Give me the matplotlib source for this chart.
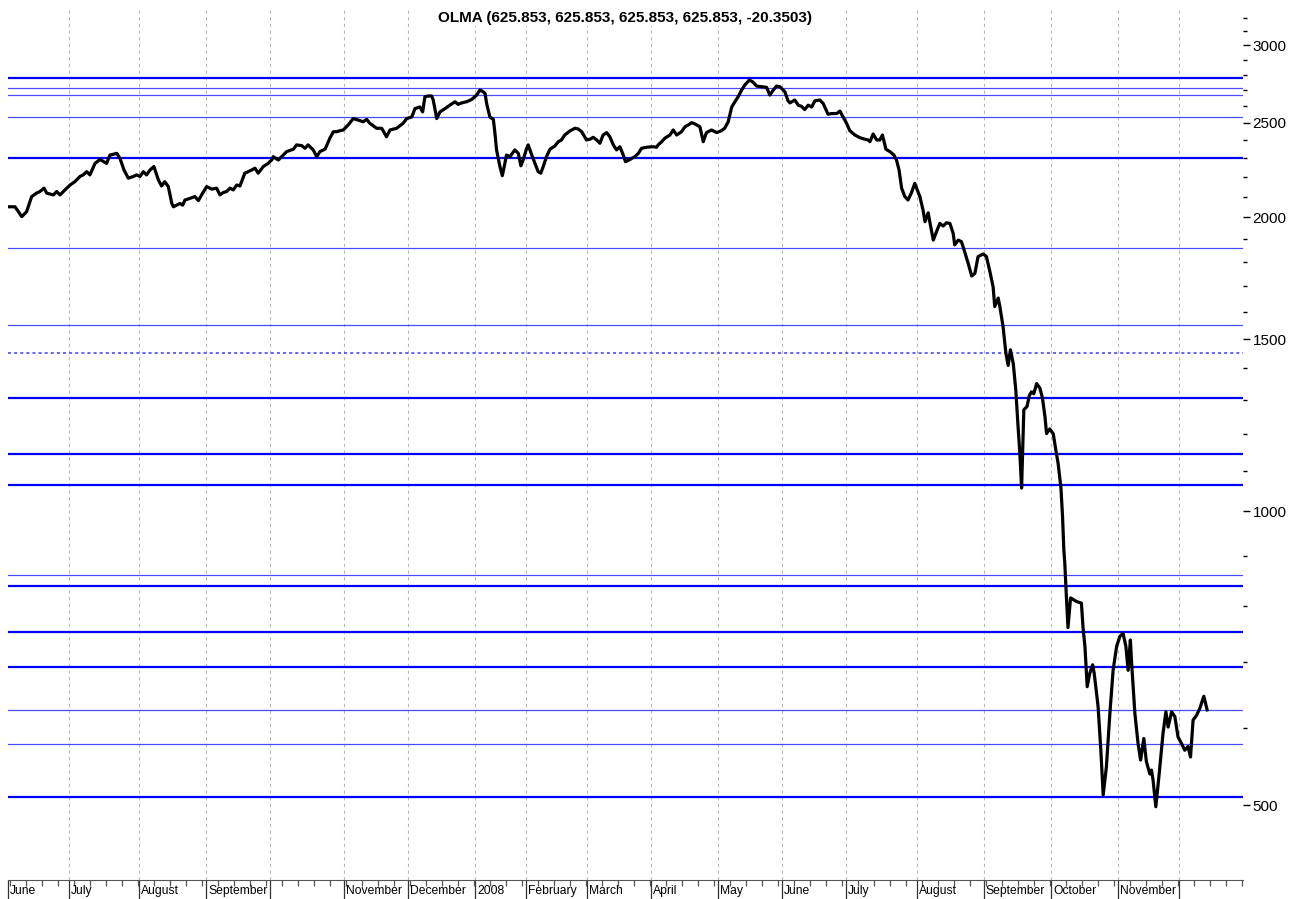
import numpy as np
import matplotlib.pyplot as plt
import matplotlib.transforms as mtransforms
from matplotlib.ticker import NullFormatter

plt.rcParams['font.family'] = ['Liberation Sans', 'DejaVu Sans']

# trading-day index / close price
day = [0, 2.2, 4.3, 5.8, 7.4, 8.9, 10, 11.25, 12.1, 14.2, 15.2, 16.25, 17.8, 19.4, 20.9,
       22.5, 23.5, 24.6, 25.6, 27.2, 28.75, 30.8, 31.9, 34, 35, 36.25, 37.6, 39.2, 40.2,
       41.25, 42.3, 43.3, 44.4, 45.6, 47, 48, 49, 50.1, 51.2, 51.7, 53.75, 54.6, 55.3,
       56.9, 58.4, 59.5, 60.5, 62.1, 63.7, 65.2, 66.25, 67.3, 68.3, 69.4, 70.4, 71.5,
       72.5, 74, 75.1, 76.2, 77.2, 78.2, 79.8, 81.3, 82.4, 82.9, 84.5, 85.5, 87.1, 89.2,
       90.2, 91.8, 92.8, 93.8, 95.4, 96.5, 97.5, 99.1, 100.6, 101.7, 102.7, 103.75,
       104.8, 106.3, 107.9, 109.5, 111, 112.1, 113.1, 115.2, 116.8, 118.3, 119.4, 121.5,
       123.5, 124.6, 126.2, 127.2, 128.75, 129.6, 130.3, 131.3, 132.4, 132.9, 134, 135,
       136.6, 138.1, 139.7, 140.7, 141.8, 143.3, 144.9, 146.5, 147.5, 148.5, 149.1,
       149.6, 150.6, 151.7, 152.2, 152.7, 153.75, 154.5, 155.3, 155.8, 156.9, 158.4,
       159.5, 160.3, 161, 162.1, 162.6, 163.7, 164.7, 165.7, 166.5, 167.3, 168.3, 169.4,
       170.9, 172, 173, 174, 175.6, 177.2, 178.2, 179.3, 180.8, 181.9, 182.9, 184, 185,
       186, 187.1, 188.1, 189.2, 190.2, 191.25, 192.3, 193, 194.4, 195.9, 197, 198,
       199.6, 201.7, 202.7, 203.2, 204.3, 205.3, 206.9, 207.9, 209, 210.5, 211.6, 212.6,
       213.7, 214.7, 216.25, 217.3, 218.3, 219.9, 221.5, 223, 224, 225.1, 226.2, 227.2,
       228.2, 229.3, 230.3, 231.7, 232.7, 234, 235.5, 237.1, 238.1, 239.2, 240.2,
       241.25, 242.8, 243.8, 244.4, 245.9, 247, 248, 249, 250.1, 251.2, 252.2, 253.75,
       254.8, 256.3, 257.4, 259, 260, 261, 262.1, 263.1, 264.7, 266.25, 267.8, 268.8,
       269.4, 270.4, 271.5, 272.5, 273.3, 274.4, 275.6, 276.9, 277.7, 278.5, 279.3,
       280.3, 281.3, 282.4, 283.4, 285, 286, 286.6, 287.6, 288.1, 289.2, 290.2, 291.25,
       292.3, 293.3, 294.4, 295.4, 295.9, 297, 298, 299, 300.1, 301.2, 302.2, 303.2,
       304.8, 305.8, 306.9, 307.9, 308.4, 309.5, 310, 311, 311.9, 312.6, 313.3, 314.2,
       315, 315.7, 316.25, 316.8, 317.3, 317.5, 318.5, 319.2, 319.9, 320.6, 321.5, 322.5,
       323.3, 324.1, 324.6, 325.6, 326.7, 327.5, 328.2, 329.1, 329.6, 330, 330.3, 330.8,
       331.3, 332.1, 334, 335.5, 336, 336.6, 337.3, 338.1, 339, 339.5, 340.7, 341.5,
       342.3, 343.3, 344.4, 345.4, 346.5, 347.5, 348.5, 349.4, 350.1, 350.8, 351.2,
       352.2, 353.2, 354, 355, 355.8, 356.9, 357.4, 357.9, 358.75, 359.8, 361, 361.9,
       362.6, 363.7, 364.7, 365.7, 366.8, 367.8, 368.8, 369.6, 370.4, 371.5, 372.5,
       373.75, 374.8]
close = [2050, 2050, 2003, 2026, 2100, 2117, 2125, 2142, 2117, 2108, 2125, 2108, 2133, 2158, 2175,
         2202, 2210, 2227, 2210, 2271, 2292, 2271, 2316, 2325, 2298, 2236, 2193, 2202, 2210,
         2202, 2227, 2210, 2236, 2254, 2184, 2153, 2175, 2150, 2066, 2050, 2066, 2058, 2083,
         2091, 2100, 2080, 2108, 2150, 2137, 2142, 2108, 2120, 2125, 2142, 2133, 2158,
         2153, 2219, 2227, 2236, 2245, 2219, 2254, 2271, 2289, 2307, 2289, 2307, 2335, 2348,
         2372, 2368, 2353, 2372, 2344, 2307, 2335, 2348, 2410, 2447, 2447, 2453,
         2457, 2486, 2524, 2515, 2505, 2519, 2496, 2467, 2467, 2418, 2457, 2467,
         2496, 2524, 2534, 2584, 2594, 2564, 2657, 2662, 2662, 2637, 2524, 2564,
         2584, 2605, 2626, 2610, 2619, 2626, 2640, 2668, 2700, 2689, 2678,
         2615, 2534, 2519, 2437, 2344, 2254, 2206, 2271, 2316, 2307, 2344,
         2325, 2258, 2289, 2353, 2372, 2316, 2271, 2227, 2219, 2254, 2307, 2348,
         2366, 2390, 2400, 2428, 2451, 2467, 2463, 2447, 2400, 2404, 2415, 2400, 2381,
         2428, 2442, 2418, 2372, 2344, 2362, 2316, 2280, 2292, 2307, 2325, 2353,
         2359, 2362, 2359, 2372, 2390, 2410, 2428, 2457, 2428, 2447, 2476, 2486,
         2500, 2492, 2476, 2390, 2442, 2457, 2442, 2453, 2467, 2505, 2594, 2626,
         2657, 2700, 2732, 2764, 2753, 2725, 2721, 2717, 2668, 2700, 2725,
         2721, 2689, 2632, 2619, 2637, 2605, 2598, 2578, 2605, 2594, 2632, 2637,
         2615, 2550, 2554, 2554, 2569, 2534, 2496, 2453, 2428, 2413, 2404, 2400,
         2390, 2434, 2400, 2400, 2428, 2348, 2335, 2316, 2289, 2236, 2142,
         2100, 2083, 2120, 2166, 2100, 2034, 1979, 2021, 1979, 1895, 1933, 1971,
         1959, 1974, 1971, 1926, 1874, 1895, 1888, 1844, 1794, 1741, 1752, 1823,
         1834, 1823, 1759, 1697, 1620, 1653, 1620, 1546, 1451, 1410, 1463, 1416,
         1329, 1220, 1147, 1056, 1200, 1270, 1280, 1313, 1325, 1319, 1351, 1337,
         1307, 1250, 1201, 1214, 1200, 1155, 1120, 1056, 987, 913, 885, 817,
         760, 815, 808, 805, 760, 727, 661, 682, 696, 682, 631, 574,
         512, 547, 621, 687, 727, 744, 750, 727, 687, 738, 698,
         621, 578, 556, 585, 554, 538, 543, 530, 498, 538, 592, 623,
         601, 623, 616, 587, 578, 569, 574, 560, 611, 618, 628,
         646.2, 625.853]

# horizontal levels
thick_levels = [2779, 2298, 1307, 1143, 1063, 838, 752, 693, 509]
thin_levels = [2712, 2670, 2535, 1861, 1551, 861, 625.853, 577]
dotted_levels = [1453]

month_idx = [0, 19, 41, 62, 82, 105, 125, 146, 162, 181, 201, 222, 242, 262, 284, 305, 326, 347, 366]
month_lbl = ['June', 'July', 'August', 'September', '', 'November', 'December', '2008',
             'February', 'March', 'April', 'May', 'June', 'July', 'August', 'September',
             'October', 'November', '']

y_major = [500, 1000, 1500, 2000, 2500, 3000]
y_minor = [v for v in range(500, 3300, 100) if v not in y_major]

title = 'OLMA (625.853, 625.853, 625.853, 625.853, -20.3503)'

fig = plt.figure(figsize=(13.03, 8.99), dpi=100)
ax = fig.add_axes([8 / 1303, 19 / 899, 1235 / 1303, 872 / 899])
ax.set_yscale('log')
ax.set_xlim(0, 386)
ax.set_ylim(419, 3276)

for m in month_idx[1:]:
    ax.axvline(m, color='#b8b8b8', lw=0.8, ls=(0, (3, 3)), zorder=0)

for lv in thick_levels:
    ax.axhline(lv, color='#0000ff', lw=1.6, zorder=1)
for lv in thin_levels:
    ax.axhline(lv, color='#4a4aff', lw=0.9, zorder=1)
for lv in dotted_levels:
    ax.axhline(lv, color='#3c3cff', lw=1.1, ls=(0, (2, 2)), zorder=1)

ax.plot(day, close, color='black', lw=2.3, solid_joinstyle='round', zorder=3)

for s in ['left', 'top', 'right']:
    ax.spines[s].set_visible(False)
ax.spines['bottom'].set_color('#555555')

ax.yaxis.tick_right()
ax.set_yticks(y_major)
ax.set_yticklabels([str(v) for v in y_major])
ax.set_yticks(y_minor, minor=True)
ax.yaxis.set_minor_formatter(NullFormatter())
ax.tick_params(axis='y', which='major', length=5, width=1, pad=2, labelsize=11)
ax.tick_params(axis='y', which='minor', length=3, width=1)

ax.set_xticks(month_idx)
ax.set_xticklabels([])
ax.set_xticks(np.arange(0.6, 386, 5), minor=True)
ax.tick_params(axis='x', which='major', length=17, width=0.9, color='#333333')
ax.tick_params(axis='x', which='minor', length=4, width=0.9, color='#555555')

trans = mtransforms.blended_transform_factory(ax.transData, ax.transAxes)
for m, lbl in zip(month_idx, month_lbl):
    if lbl:
        ax.text(m + 0.6, -0.0125, lbl, transform=trans, ha='left', va='center',
                fontsize=8.7, family=['Liberation Sans Narrow', 'Liberation Sans', 'DejaVu Sans'])

ax.text(0.5, 1 - 10 / 872, title, transform=ax.transAxes, ha='center', va='center',
        fontsize=11, fontweight='bold', zorder=5,
        bbox=dict(facecolor='white', edgecolor='none', pad=1))

fig.savefig('out.png', dpi=100)
